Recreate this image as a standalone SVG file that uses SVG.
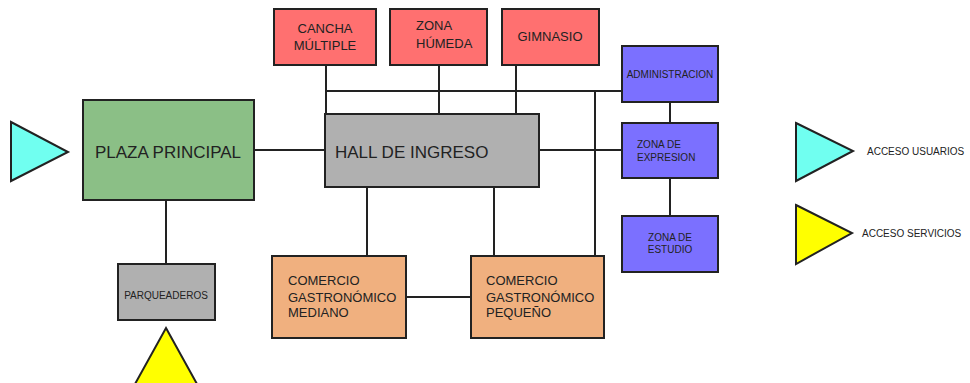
<svg xmlns="http://www.w3.org/2000/svg" width="970" height="383" viewBox="0 0 970 383">
<style>
.b{stroke:#222;stroke-width:2}
.l{stroke:#222;stroke-width:2;fill:none}
text{font-family:"Liberation Sans",Arial,sans-serif;fill:#222}
.s13{font-size:13px}
.s10{font-size:10px}
.s17{font-size:17px}
.red{fill:#ff7070}
.pur{fill:#7b70ff}
</style>
<rect width="970" height="383" fill="#fff"/>
<g id="connectors">
<path class="l" d="M326 65V115M439 65V115M516 65V115M326 91H622M595 91V256M255 150H325M539 150H622M166 200V264M367 187V256M494 187V256M406 297H471M670 102V123M670 178V216"/>
</g>
<g id="cancha"><rect class="b red" x="274" y="9" width="102" height="56"/><text class="s13" x="325" y="33" text-anchor="middle">CANCHA</text><text class="s13" x="325" y="50" text-anchor="middle">MÚLTIPLE</text></g>
<g id="zona-humeda"><rect class="b red" x="390" y="9" width="97" height="56"/><text class="s13" x="416" y="30">ZONA</text><text class="s13" x="416" y="48">HÚMEDA</text></g>
<g id="gimnasio"><rect class="b red" x="502" y="9" width="97" height="56"/><text class="s13" x="550" y="41" text-anchor="middle">GIMNASIO</text></g>
<g id="hall"><rect class="b" fill="#b0b0b0" x="325" y="114" width="214" height="73"/><text class="s17" x="335" y="158">HALL DE INGRESO</text></g>
<g id="plaza"><rect class="b" fill="#8bbf86" x="83" y="100" width="171" height="100"/><text class="s17" x="168" y="158" text-anchor="middle">PLAZA PRINCIPAL</text></g>
<g id="acceso-plaza"><polygon class="b" fill="#70fff0" points="11,122 68,152 11,181"/></g>
<g id="parqueaderos"><rect class="b" fill="#b0b0b0" x="118" y="264" width="97" height="56"/><text class="s10" x="166" y="299" text-anchor="middle">PARQUEADEROS</text></g>
<g id="acceso-parq"><polygon class="b" fill="#ffff00" points="166,328 197,384 135,384"/></g>
<g id="comercio-mediano"><rect class="b" fill="#f0b07f" x="272" y="256" width="134" height="82"/><text class="s13" x="288" y="285">COMERCIO</text><text class="s13" x="288" y="302">GASTRONÓMICO</text><text class="s13" x="288" y="317">MEDIANO</text></g>
<g id="comercio-pequeno"><rect class="b" fill="#f0b07f" x="471" y="256" width="133" height="82"/><text class="s13" x="486" y="285">COMERCIO</text><text class="s13" x="486" y="302">GASTRONÓMICO</text><text class="s13" x="486" y="317">PEQUEÑO</text></g>
<g id="administracion"><rect class="b pur" x="622" y="46" width="96" height="56"/><text class="s10" x="670" y="78" text-anchor="middle">ADMINISTRACION</text></g>
<g id="zona-expresion"><rect class="b pur" x="622" y="123" width="96" height="55"/><text class="s10" x="637" y="148">ZONA DE</text><text class="s10" x="637" y="161">EXPRESION</text></g>
<g id="zona-estudio"><rect class="b pur" x="622" y="216" width="96" height="56"/><text class="s10" x="670" y="241" text-anchor="middle">ZONA DE</text><text class="s10" x="670" y="253" text-anchor="middle">ESTUDIO</text></g>
<g id="leyenda-usuarios"><polygon class="b" fill="#70fff0" points="796,123 853,151 796,181"/><text class="s10" x="867" y="155">ACCESO USUARIOS</text></g>
<g id="leyenda-servicios"><polygon class="b" fill="#ffff00" points="796,205 852,233 796,264"/><text class="s10" x="862" y="237">ACCESO SERVICIOS</text></g>
</svg>
